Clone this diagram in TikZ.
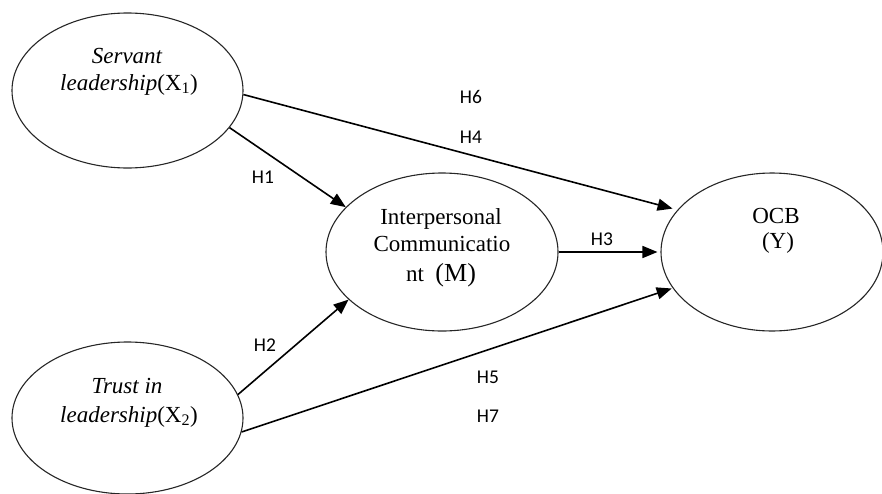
\documentclass[tikz,border=0pt]{standalone}
\usepackage{fontspec}
\setmainfont{Liberation Serif}
\newfontfamily\lblfont{Carlito}
\usetikzlibrary{shapes.geometric,arrows.meta}
\begin{document}
\begin{tikzpicture}[x=1pt,y=-1pt,
  latent/.style={draw=black!85, line width=1.1pt, ellipse, inner sep=0pt},
  conn/.style={draw=black, line width=1.6pt, -{Triangle[length=15pt,width=12pt]}},
  hlab/.style={font=\lblfont\fontsize{19.5}{19.5}\selectfont, anchor=base, inner sep=0pt},
  ctext/.style={font=\fontsize{23}{23}\selectfont, anchor=base, inner sep=0pt}]
\useasboundingbox (0,0) rectangle (882,493);
% ellipses
\node[latent, minimum width=231pt, minimum height=155pt] (X1) at (127.5,90.5) {};
\node[latent, minimum width=232pt, minimum height=158pt] (M) at (442,252) {};
\node[latent, minimum width=222pt, minimum height=158pt] (Y) at (772,252) {};
\node[latent, minimum width=231pt, minimum height=152pt] (X2) at (127.5,418) {};
% texts
\node[ctext] (x1a) at (127,63) {\itshape Servant};
\node[ctext] (x1b) at (129,90) {\itshape leadership\/\upshape(X\textsubscript{1})};
\node[ctext] (ma) at (441,224) {Interpersonal};
\node[ctext] (mb) at (442,251) {Communicatio};
\node[ctext] (mc) at (441,281) {nt\ \ {\fontsize{26}{26}\selectfont(M)}};
\node[ctext] (ya) at (776,223) {OCB};
\node[ctext] (yb) at (778,248) {(Y)};
\node[ctext] (x2a) at (127,393) {\itshape Trust in};
\node[ctext] (x2b) at (129,422) {\itshape leadership\/\upshape(X\textsubscript{2})};
% connectors
\draw[conn] (X1.-20) -- (M.155);
\draw[conn] (X2.12) -- (M.207);
\draw[conn, shorten >=3pt] (M.east) -- (Y.west);
\draw[conn, shorten >=5pt] (X1.-2) -- (Y.156);
\draw[conn, shorten >=1pt] (X2.-7) -- (Y.200);
% labels
\node[hlab] (h6) at (471,103) {H6};
\node[hlab] (h4) at (471,143) {H4};
\node[hlab] (h1) at (263,183) {H1};
\node[hlab] (h2) at (265,351) {H2};
\node[hlab] (h3) at (602,245) {H3};
\node[hlab] (h5) at (488,383) {H5};
\node[hlab] (h7) at (488,422) {H7};
\end{tikzpicture}
\end{document}
